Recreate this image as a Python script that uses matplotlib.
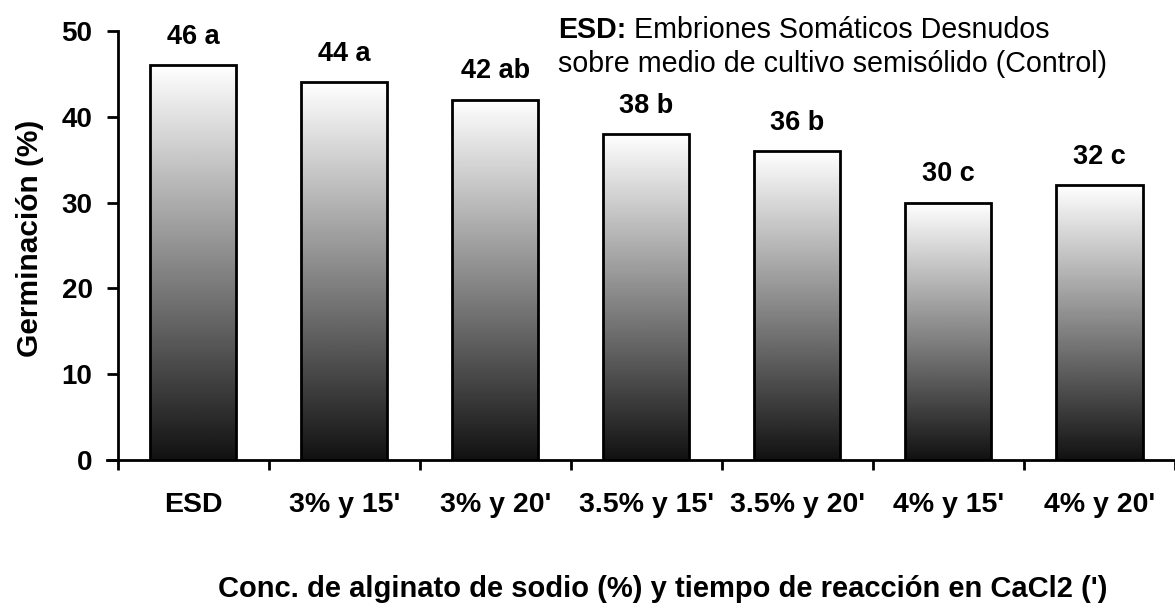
import numpy as np
import matplotlib.pyplot as plt

# data
categories = ["ESD", "3% y 15'", "3% y 20'", "3.5% y 15'", "3.5% y 20'", "4% y 15'", "4% y 20'"]
germination = [46, 44, 42, 38, 36, 30, 32]
letters = ["a", "a", "ab", "b", "b", "c", "c"]

plt.rcParams['font.family'] = ['Liberation Sans', 'DejaVu Sans']

fig = plt.figure(figsize=(11.75, 6.1), dpi=100)
ax = fig.add_axes([107 / 1175, 150 / 610, 1068 / 1175, 429 / 610])

x = np.arange(len(categories))
width = 0.57

# vertical gradient, white on top, almost black at the bottom
grad = np.linspace(0.07, 1.0, 256).reshape(-1, 1)
for xi, v in zip(x, germination):
    ax.imshow(grad, cmap='gray', vmin=0, vmax=1, origin='lower', aspect='auto',
              extent=[xi - width / 2, xi + width / 2, 0, v], zorder=1)
ax.bar(x, germination, width=width, facecolor='none', edgecolor='black', linewidth=2, zorder=2)

for xi, v, l in zip(x, germination, letters):
    ax.annotate(f"{v} {l}", (xi, v), xytext=(0, 11), textcoords='offset points',
                ha='center', va='bottom', fontsize=19.5, fontweight='bold')

ax.set_xlim(-0.57, 6.45)
ax.set_ylim(0, 50)

ax.spines['top'].set_visible(False)
ax.spines['right'].set_visible(False)
ax.spines['left'].set_position(('data', -0.5))
for s in ('left', 'bottom'):
    ax.spines[s].set_linewidth(2)

ax.set_yticks([0, 10, 20, 30, 40, 50])
ax.tick_params(axis='y', length=8, width=2, labelsize=20, pad=10)
for t in ax.get_yticklabels():
    t.set_fontweight('bold')

ax.set_xticks(x)
ax.set_xticklabels(categories, fontsize=20.5, fontweight='bold')
ax.set_xticks(np.arange(-0.5, 7, 1), minor=True)
ax.tick_params(axis='x', which='major', length=0, pad=23)
ax.tick_params(axis='x', which='minor', length=7, width=2)

fig.text(30 / 1175, 1 - 238 / 610, "Germinación (%)", rotation=90, ha='center', va='center',
         fontsize=21.5, fontweight='bold')
fig.text(218 / 1175, 1 - 597 / 610, "Conc. de alginato de sodio (%) y tiempo de reacción en CaCl2 (')",
         ha='left', va='baseline', fontsize=21, fontweight='bold')

# note in the upper right
t1 = fig.text(558 / 1175, 1 - 38 / 610, "ESD:", fontsize=20.6, fontweight='bold', va='baseline')
fig.canvas.draw()
bb = t1.get_window_extent()
fig.text(bb.x1 / 1175, 1 - 38 / 610, " Embriones Somáticos Desnudos", fontsize=20.6, va='baseline')
fig.text(558 / 1175, 1 - 72 / 610, "sobre medio de cultivo semisólido (Control)", fontsize=20.6, va='baseline')

fig.savefig('out.png', dpi=100)
